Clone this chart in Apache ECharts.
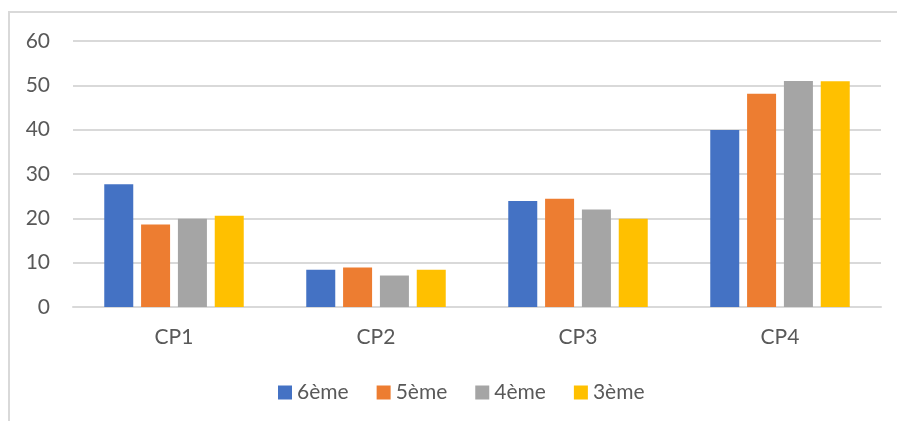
<!DOCTYPE html>
<html>
<head>
<meta charset="utf-8">
<script src="https://cdn.jsdelivr.net/npm/echarts@6/dist/echarts.min.js"></script>
<style>
	html, body { margin: 0; padding: 0; background: #ffffff; }
	.chart-container { position: relative; width: 897px; height: 421px; }
	.chart-box { width: 897px; height: 421px; }
	.frame {
		position: absolute; left: 8px; top: 11px; right: -5px; bottom: -5px;
		border-left: 2px solid #d9d9d9; border-top: 2px solid #d9d9d9;
		pointer-events: none;
	}
</style>
</head>
<body>
<div class="chart-container">
	<div class="chart-box" id="barChart"></div>
	<div class="frame"></div>
</div>
<script>
	const categories = ['CP1', 'CP2', 'CP3', 'CP4'];
	const seriesNames = ['6ème', '5ème', '4ème', '3ème'];
	const sixieme = [27.7, 8.4, 23.9, 39.9];
	const cinquieme = [18.6, 8.9, 24.4, 48.1];
	const quatrieme = [19.9, 7.1, 22.0, 51.0];
	const troisieme = [20.6, 8.4, 19.9, 50.9];
	const yTicks = [0, 10, 20, 30, 40, 50, 60];

	const colors = ['#4472c4', '#ed7d31', '#a5a5a5', '#ffc000'];
	const values = [sixieme, cinquieme, quatrieme, troisieme];
	const font = 'Lato, Open Sans, sans-serif';

	const chart = echarts.init(document.getElementById('barChart'));
	chart.setOption({
		animation: false,
		textStyle: { fontFamily: font },
		grid: { left: 73, right: 16, top: 41, bottom: 114 },
		legend: {
			top: 377,
			left: 273,
			icon: 'rect',
			itemWidth: 14,
			itemHeight: 14,
			itemGap: 28,
			textStyle: { color: '#595959', fontSize: 21, fontFamily: font },
			data: seriesNames
		},
		xAxis: {
			type: 'category',
			data: categories,
			axisTick: { show: false },
			axisLine: { lineStyle: { color: '#d9d9d9', width: 2 } },
			axisLabel: { color: '#595959', fontSize: 21, margin: 20 }
		},
		yAxis: {
			type: 'value',
			min: yTicks[0],
			max: yTicks[yTicks.length - 1],
			interval: 10,
			axisLine: { show: false },
			axisTick: { show: false },
			axisLabel: { color: '#595959', fontSize: 21, margin: 23 },
			splitLine: { lineStyle: { color: '#d9d9d9', width: 2 } }
		},
		series: seriesNames.map((name, i) => ({
			name: name,
			type: 'bar',
			data: values[i],
			barWidth: 29,
			barGap: '27%',
			itemStyle: { color: colors[i] }
		}))
	});
</script>
</body>
</html>
